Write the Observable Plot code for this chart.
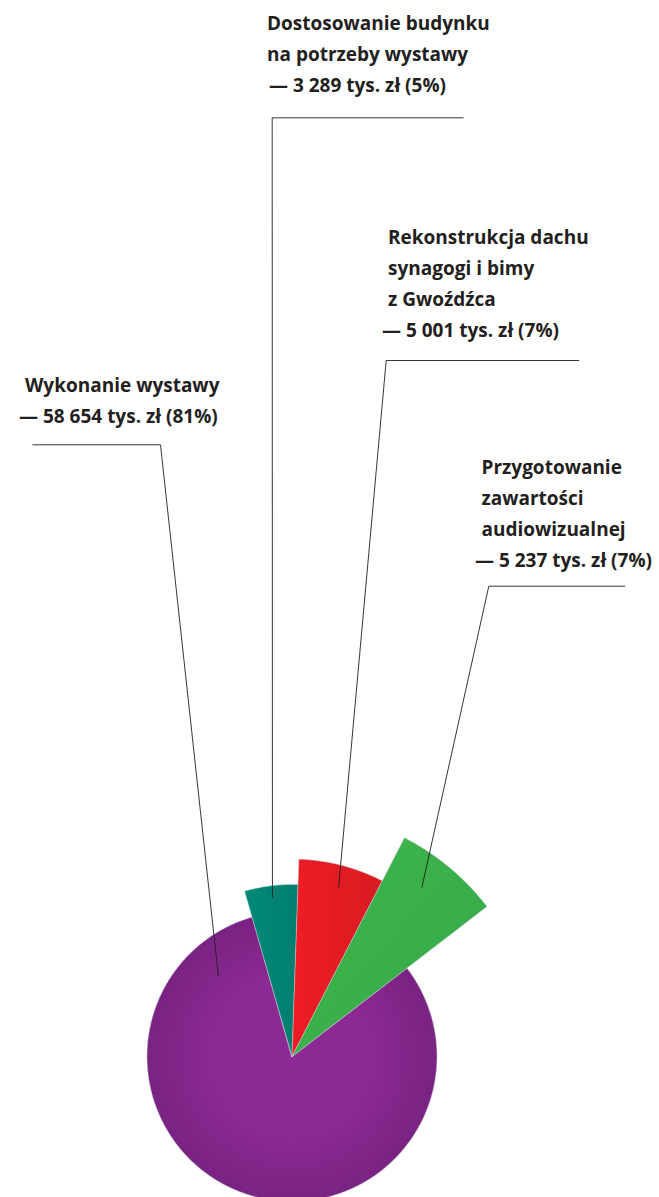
<!DOCTYPE html>
<html><head><meta charset="utf-8">
<script src="https://cdn.jsdelivr.net/npm/d3@7"></script>
<script src="https://cdn.jsdelivr.net/npm/@observablehq/plot@0.6"></script>
<style>html,body{margin:0;padding:0;background:#fff}svg{display:block}</style>
</head><body><div id="chart"></div>
<script>
// ---- data ----
const categories = ["Dostosowanie budynku na potrzeby wystawy", "Rekonstrukcja dachu synagogi i bimy z Gwoźdźca", "Przygotowanie zawartości audiowizualnej", "Wykonanie wystawy"];
const labelLines = [["Dostosowanie budynku", "na potrzeby wystawy"], ["Rekonstrukcja dachu", "synagogi i bimy", "z Gwoźdźca"], ["Przygotowanie", "zawartości", "audiowizualnej"], ["Wykonanie wystawy"]];
const amounts = [3289, 5001, 5237, 58654];           // tys. zł
const amountLabels = ["3 289", "5 001", "5 237", "58 654"];
const percents = [5, 7, 7, 81];

// ---- styles & layout ----
const W = 659, H = 1197;
const center = {x: 291.5, y: 1056};
const startDeg = -16;
const sliceRadius = [172, 197.5, 246, 145];
const gradStops = [
  ["#008a78", "#007e6f"],
  ["#ee1c25", "#d91b21"],
  ["#3db64b", "#37a84a"],
  ["#8c2992", "#7a2383"]
];
const labelX = [266.5, 387.5, 481, 24.5];
const labelBase = [29, 243.5, 473, 391];
const lineGap = 31;
const dashDx = [2, -6, -6.5, -6];
const hLine = [[462.7, 117.3, 271.7], [578.3, 360, 385.7], [624.3, 585.7, 488.3], [32.3, 444.3, 160]]; // [xFar, y, xCorner]
const anchor = [[-7, 160.5], [15.4, 175.6], [37.5, 213.5], [-42.3, 109.5]]; // [deg, r]
const ink = "#231f20";
const fontSize = 19;

// ---- derived ----
const rad = d => d * Math.PI / 180;
const pie = d3.pie().sort(null).startAngle(rad(startDeg)).endAngle(rad(startDeg) + 2 * Math.PI)(percents);
const pt = (a, r) => ({x: center.x + r * Math.sin(a), y: center.y - r * Math.cos(a)});

const wedges = pie.map((p, i) => {
  const pts = [{...center, i}];
  const n = Math.max(8, Math.ceil((p.endAngle - p.startAngle) / rad(0.5)));
  for (let k = 0; k <= n; k++) {
    const a = p.startAngle + (p.endAngle - p.startAngle) * k / n;
    pts.push({...pt(a, sliceRadius[i]), i});
  }
  return pts;
});

const textRows = [];
categories.forEach((c, i) => {
  const lines = [...labelLines[i], `— ${amountLabels[i]} tys. zł (${percents[i]}%)`];
  lines.forEach((t, j) => textRows.push({
    text: t,
    x: labelX[i] + (j === lines.length - 1 ? dashDx[i] : 0),
    y: labelBase[i] + j * lineGap
  }));
});

const leaders = categories.map((c, i) => {
  const [xf, y, xc] = hLine[i];
  const e = pt(rad(anchor[i][0]), anchor[i][1]);
  return [{x: xf, y, i}, {x: xc, y, i}, {...e, i}];
}).flat();

const order = [3, 0, 1, 2];
const plot = Plot.plot({
  width: W, height: H,
  margin: 0,
  x: {domain: [0, W], range: [0, W], axis: null},
  y: {domain: [0, H], range: [0, H], axis: null},
  style: {background: "#fff", fontFamily: "'Open Sans', 'Noto Sans', sans-serif"},
  marks: [
    ...order.map(i => Plot.line(wedges[i], {x: "x", y: "y", curve: "linear-closed", fill: `url(#g${i})`, stroke: "#c9cdd6", strokeWidth: 0.6, strokeOpacity: 0.9})),
    Plot.line(leaders, {x: "x", y: "y", z: "i", stroke: ink, strokeWidth: 0.9}),
    Plot.text(textRows, {x: "x", y: "y", text: "text", textAnchor: "start", lineAnchor: "bottom", fontSize, fontWeight: "bold", fill: ink})
  ]
});

// gradients
const xs = plot.scale("x"), ys = plot.scale("y");
const cx = xs.apply(center.x), cy = ys.apply(center.y);
const svg = d3.select(plot);
const defs = svg.insert("defs", ":first-child");
gradStops.forEach((s, i) => {
  let g;
  if (i === 3) {
    g = defs.append("radialGradient").attr("id", "g" + i).attr("gradientUnits", "userSpaceOnUse")
      .attr("cx", cx).attr("cy", cy).attr("r", sliceRadius[i]);
    g.append("stop").attr("offset", "0").attr("stop-color", s[0]);
    g.append("stop").attr("offset", "0.55").attr("stop-color", s[0]);
    g.append("stop").attr("offset", "1").attr("stop-color", s[1]);
  } else {
    g = defs.append("linearGradient").attr("id", "g" + i)
      .attr("x1", "0").attr("y1", "0").attr("x2", "1").attr("y2", i === 2 ? "1" : "0");
    g.append("stop").attr("offset", "0").attr("stop-color", s[0]);
    g.append("stop").attr("offset", "1").attr("stop-color", s[1]);
  }
});
document.getElementById("chart").appendChild(plot);
</script>
</body></html>
